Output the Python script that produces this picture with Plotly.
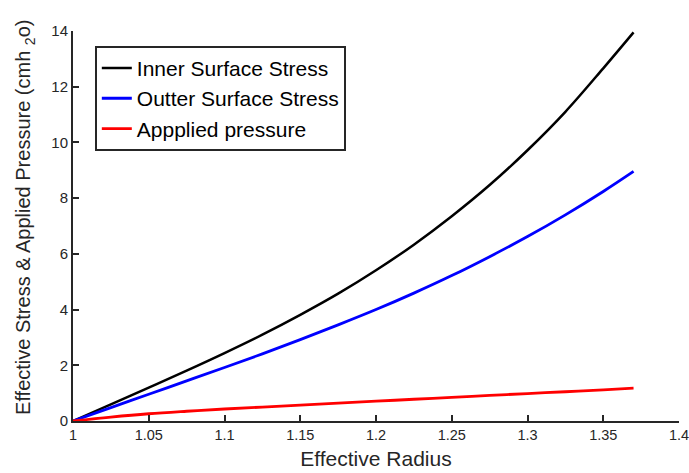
import plotly.graph_objects as go

radius = [1.000, 1.025, 1.050, 1.075, 1.100, 1.125, 1.150, 1.175, 1.200,
          1.225, 1.250, 1.275, 1.300, 1.325, 1.350, 1.370]
inner_stress = [0.0, 0.60, 1.20, 1.81, 2.44, 3.10, 3.81, 4.57, 5.41,
                6.33, 7.35, 8.47, 9.72, 11.10, 12.66, 13.95]
outer_stress = [0.0, 0.48, 0.96, 1.44, 1.92, 2.41, 2.92, 3.45, 4.00,
                4.59, 5.22, 5.90, 6.62, 7.40, 8.24, 8.96]
applied_pressure = [0.0, 0.14, 0.26, 0.35, 0.43, 0.50, 0.57, 0.64, 0.71,
                    0.78, 0.85, 0.92, 0.985, 1.05, 1.12, 1.18]

x_ticks = [1.0, 1.05, 1.1, 1.15, 1.2, 1.25, 1.3, 1.35, 1.4]
x_tick_text = ["1", "1.05", "1.1", "1.15", "1.2", "1.25", "1.3", "1.35", "1.4"]
y_ticks = [0, 2, 4, 6, 8, 10, 12, 14]

font_family = "Liberation Sans, Arial, sans-serif"
axis_color = "#262626"

fig = go.Figure()
fig.add_trace(go.Scatter(x=radius, y=inner_stress, mode="lines", name="Inner Surface Stress",
                         line=dict(color="#000000", width=2.5, shape="spline")))
fig.add_trace(go.Scatter(x=radius, y=outer_stress, mode="lines", name="Outter Surface Stress",
                         line=dict(color="#0000ff", width=2.8, shape="spline")))
fig.add_trace(go.Scatter(x=radius, y=applied_pressure, mode="lines", name="Appplied pressure",
                         line=dict(color="#ff0000", width=2.8, shape="spline")))

fig.update_layout(
    width=689, height=473,
    margin=dict(l=73, r=10, t=31, b=52),
    paper_bgcolor="white", plot_bgcolor="white",
    font=dict(family=font_family, size=15, color=axis_color),
    legend=dict(x=0.036, y=0.962, xanchor="left", yanchor="top",
                bgcolor="white", bordercolor="#262626", borderwidth=2,
                font=dict(size=21, color="#000000"),
                tracegroupgap=0, itemwidth=30),
    showlegend=True,
    annotations=[dict(
        text="Effective Stress & Applied Pressure (cmh <sub>2</sub>o)",
        textangle=-90, xref="paper", yref="paper",
        x=-0.079, y=0.521, xanchor="center", yanchor="middle",
        showarrow=False, font=dict(size=20, color=axis_color),
    )],
)
fig.update_xaxes(
    range=[1.0, 1.4], tickvals=x_ticks, ticktext=x_tick_text, automargin=False,
    showgrid=False, zeroline=False, showline=True, linecolor=axis_color, linewidth=2,
    ticks="inside", ticklen=6, tickwidth=2, tickcolor=axis_color,
    tickfont=dict(size=14.5, color=axis_color), ticklabeloverflow="allow",
    title=dict(text="Effective Radius", font=dict(size=21, color=axis_color), standoff=9),
)
fig.update_yaxes(
    range=[0, 14], tickvals=y_ticks, automargin=False,
    showgrid=False, zeroline=False, showline=True, linecolor=axis_color, linewidth=2,
    ticks="inside", ticklen=6, tickwidth=2, tickcolor=axis_color,
    tickfont=dict(size=15, color=axis_color),
)

fig.write_html("out.html")
